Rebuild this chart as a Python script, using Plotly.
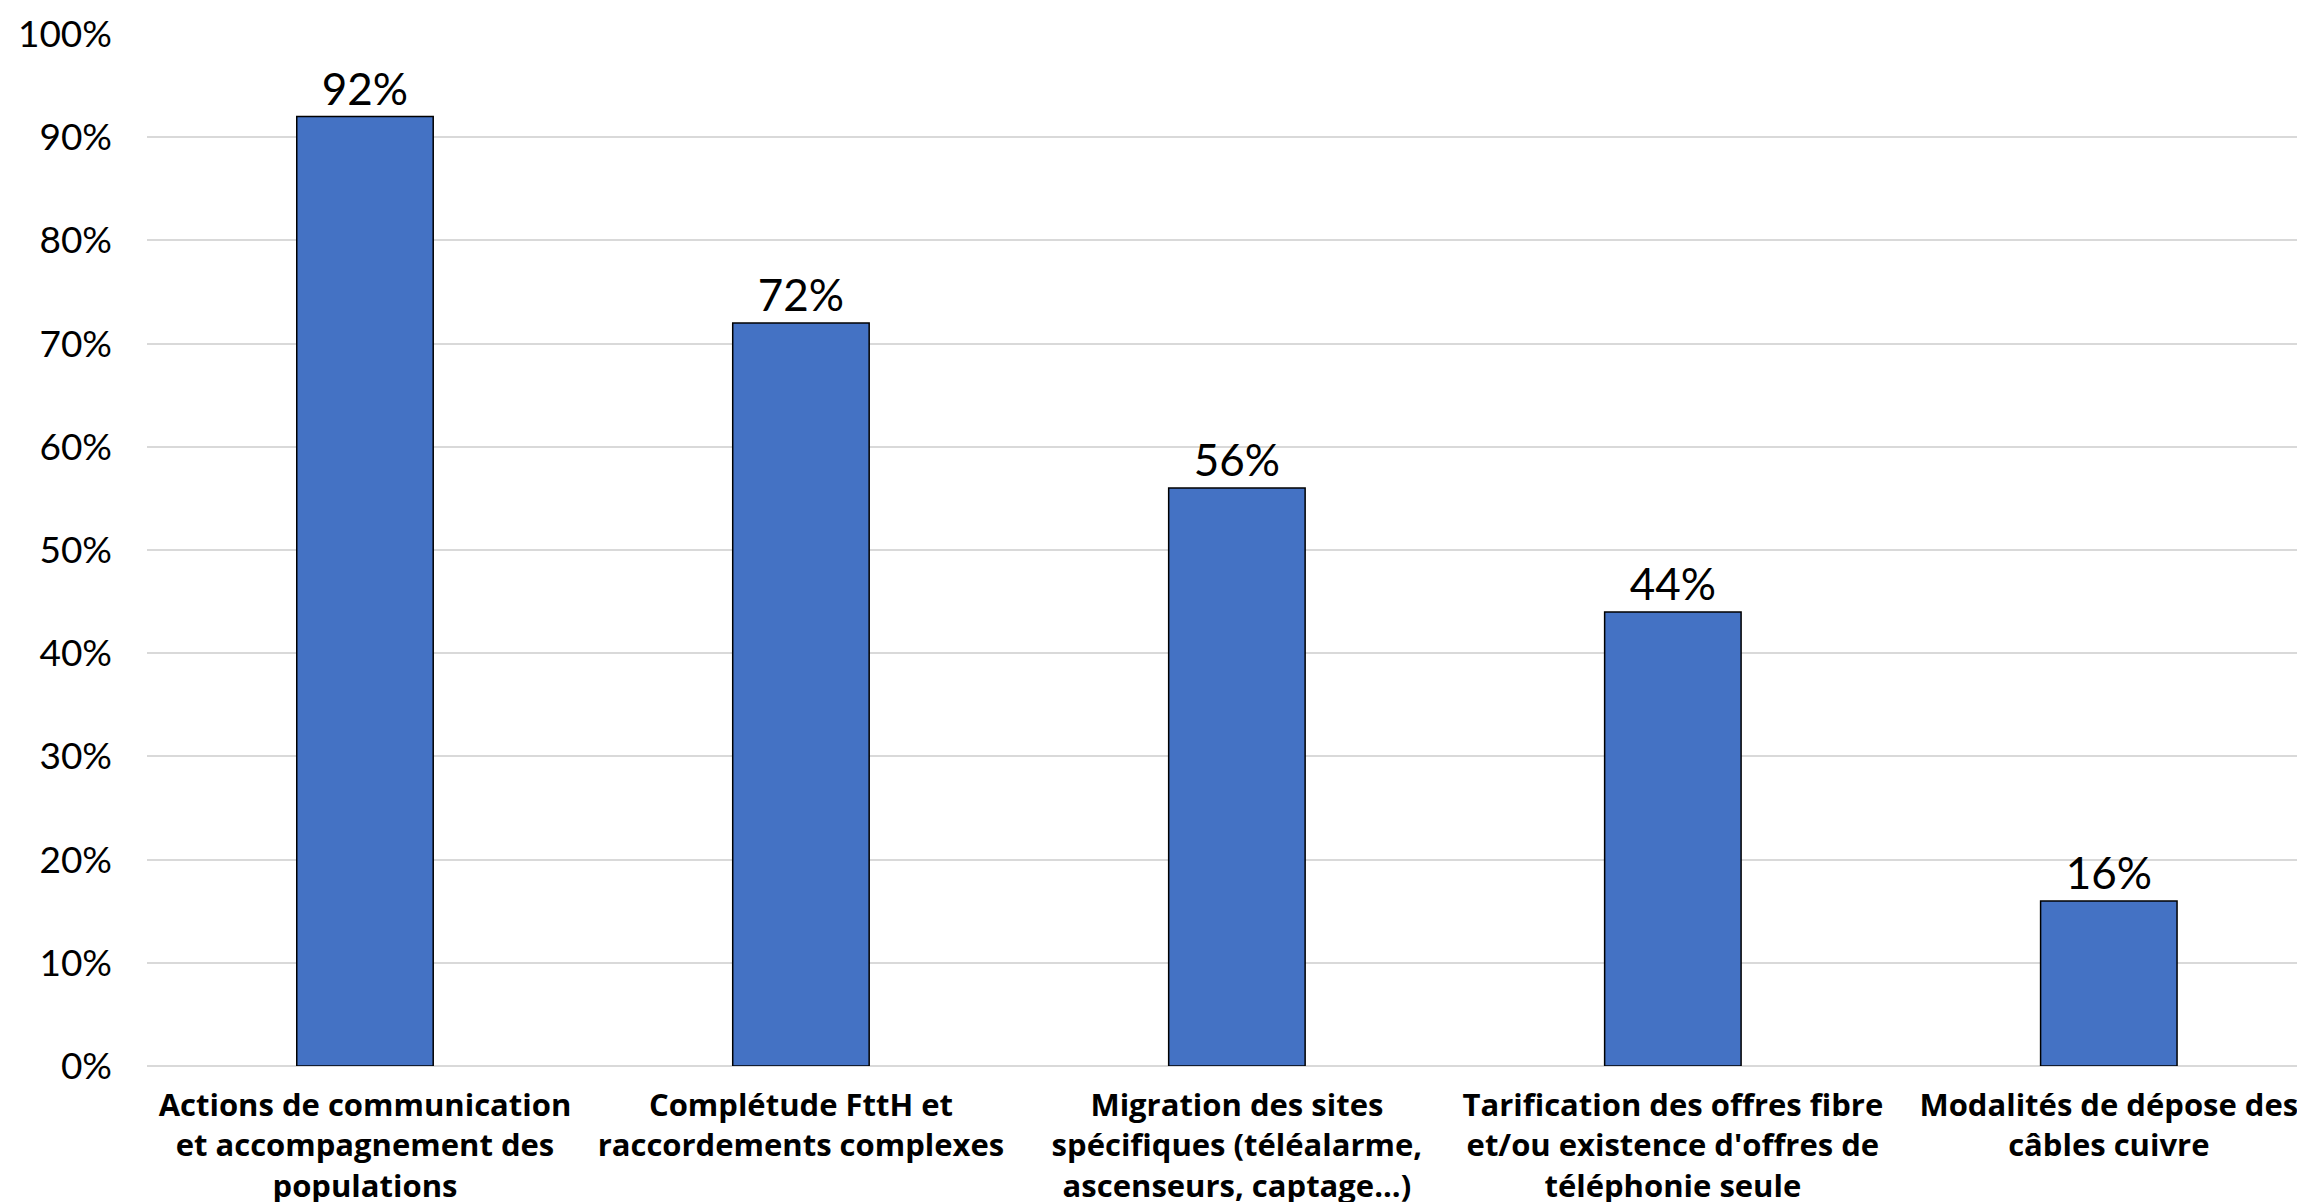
import plotly.graph_objects as go

categories = [
    "Actions de communication<br>et accompagnement des<br>populations",
    "Complétude FttH et<br>raccordements complexes",
    "Migration des sites<br>spécifiques (téléalarme,<br>ascenseurs, captage...)",
    "Tarification des offres fibre<br>et/ou existence d'offres de<br>téléphonie seule",
    "Modalités de dépose des<br>câbles cuivre",
]
values = [0.92, 0.72, 0.56, 0.44, 0.16]
ytick_vals = [0, 0.1, 0.2, 0.3, 0.4, 0.5, 0.6, 0.7, 0.8, 0.9, 1.0]

fig = go.Figure(
    go.Bar(
        x=list(range(len(categories))),
        y=values,
        marker=dict(color="#4472C4", line=dict(color="#000000", width=1.5)),
        texttemplate="%{y:.0%}",
        textposition="outside",
        textfont=dict(family="Lato", size=44, color="#000000"),
        cliponaxis=False,
        width=0.313,
    )
)

fig.update_layout(
    width=2297,
    height=1194,
    margin=dict(l=139, r=0, t=26, b=136),
    paper_bgcolor="white",
    plot_bgcolor="white",
    showlegend=False,
    font=dict(family="Lato", color="#000000"),
)

fig.update_xaxes(
    tickmode="array",
    tickvals=list(range(len(categories))),
    ticktext=categories,
    range=[-0.5, 4.45],
    tickfont=dict(family="Open Sans", size=31, color="#000000", weight="bold"),
    showgrid=False,
    showline=False,
    ticks="",
    ticklabelstandoff=18,
    automargin=False,
)

fig.update_yaxes(
    range=[0, 1.0],
    tickvals=ytick_vals,
    tickformat=".0%",
    tickfont=dict(family="Lato", size=37, color="#000000"),
    showgrid=True,
    gridcolor="#d9d9d9",
    gridwidth=2,
    zeroline=True,
    zerolinecolor="#d9d9d9",
    zerolinewidth=2,
    ticklabelstandoff=34,
    automargin=False,
)

fig.write_html("out.html")
